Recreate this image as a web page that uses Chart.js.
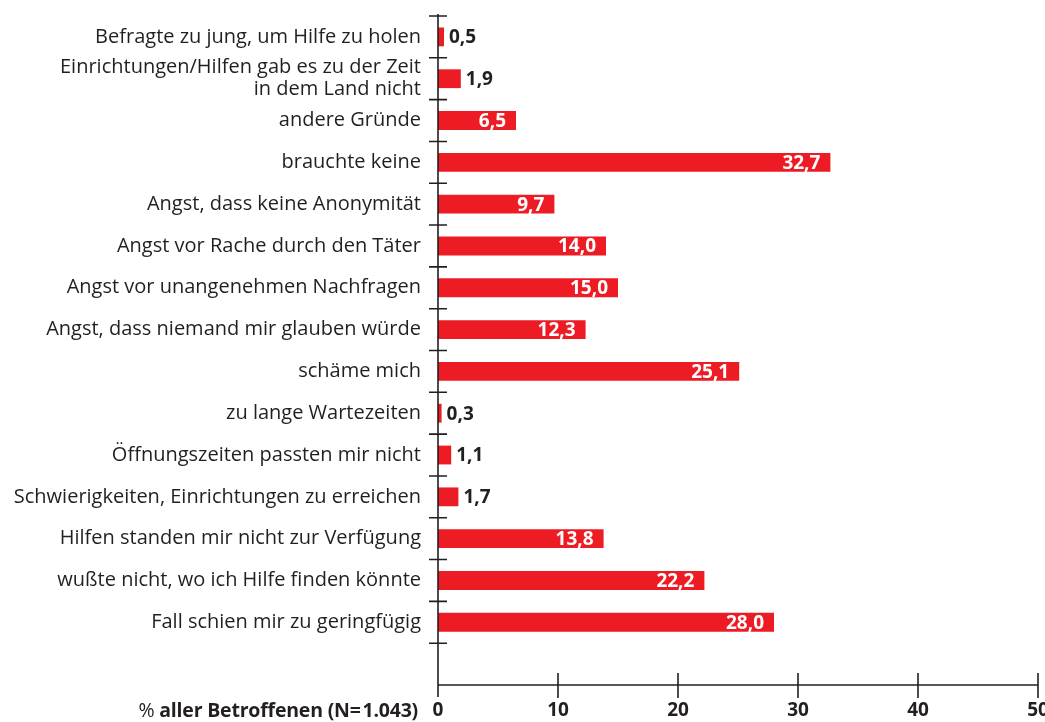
<!DOCTYPE html>
<html><head><meta charset="utf-8">
<script src="https://cdn.jsdelivr.net/npm/chart.js@4.4.1/dist/chart.umd.min.js"></script>
<style>
html,body{margin:0;padding:0;background:#fff;overflow:hidden;width:1045px;height:722px}
#wrap{position:relative;width:1048px;height:722px}
#note{position:absolute;left:0;width:418px;top:698px;line-height:24px;text-align:right;font-family:"Open Sans",sans-serif;font-size:19.5px;color:#231f20;font-weight:bold;white-space:nowrap;letter-spacing:-0.2px}
#note span{font-weight:normal}
</style></head>
<body>
<div id="wrap"><canvas id="c" width="1048" height="722"></canvas>
<div id="note"><span>%</span> aller Betroffenen (N=&#8202;1.043)</div></div>
<script>
const categories = [
  'Befragte zu jung, um Hilfe zu holen',
  ['Einrichtungen/Hilfen gab es zu der Zeit', 'in dem Land nicht'],
  'andere Gründe',
  'brauchte keine',
  'Angst, dass keine Anonymität',
  'Angst vor Rache durch den Täter',
  'Angst vor unangenehmen Nachfragen',
  'Angst, dass niemand mir glauben würde',
  'schäme mich',
  'zu lange Wartezeiten',
  'Öffnungszeiten passten mir nicht',
  'Schwierigkeiten, Einrichtungen zu erreichen',
  'Hilfen standen mir nicht zur Verfügung',
  'wußte nicht, wo ich Hilfe finden könnte',
  'Fall schien mir zu geringfügig',
  ''
];
const values = [0.5, 1.9, 6.5, 32.7, 9.7, 14.0, 15.0, 12.3, 25.1, 0.3, 1.1, 1.7, 13.8, 22.2, 28.0, null];
const xTickValues = [0, 10, 20, 30, 40, 50];

const RED = '#ed1c24';
const INK = '#231f20';
const FONT = '"Open Sans", sans-serif';

const axisPlugin = {
  id: 'axes',
  afterDraw(chart) {
    const ctx = chart.ctx, xs = chart.scales.x, ys = chart.scales.y;
    const x0 = xs.getPixelForValue(0);
    const yb = ys.bottom;
    ctx.save();
    ctx.strokeStyle = INK;
    ctx.lineWidth = 1.6;
    ctx.beginPath();
    ctx.moveTo(x0, ys.top - 2);
    ctx.lineTo(x0, yb + 12);
    ctx.moveTo(x0, yb);
    ctx.lineTo(xs.right, yb);
    const n = categories.length;
    for (let i = 0; i < n; i++) {
      const yy = ys.getPixelForValue(i - 0.5);
      ctx.moveTo(x0 - 9, yy);
      ctx.lineTo(x0 + 9, yy);
    }
    xTickValues.forEach(v => {
      if (v === 0) return;
      const xx = xs.getPixelForValue(v);
      ctx.moveTo(xx, yb - 12);
      ctx.lineTo(xx, yb + 13);
    });
    ctx.stroke();
    ctx.restore();
  }
};

const labelPlugin = {
  id: 'valueLabels',
  afterDatasetsDraw(chart) {
    const ctx = chart.ctx;
    const meta = chart.getDatasetMeta(0);
    ctx.save();
    ctx.font = 'bold 19px ' + FONT;
    ctx.textBaseline = 'middle';
    meta.data.forEach((bar, i) => {
      const v = values[i];
      if (v === null || v === undefined) return;
      const txt = v.toFixed(1).replace('.', ',');
      if (v >= 5) {
        ctx.fillStyle = '#ffffff';
        ctx.textAlign = 'right';
        ctx.fillText(txt, bar.x - 10, bar.y + 1);
      } else {
        ctx.fillStyle = INK;
        ctx.textAlign = 'left';
        ctx.fillText(txt, bar.x + 5, bar.y + 1);
      }
    });
    ctx.restore();
  }
};

new Chart(document.getElementById('c'), {
  type: 'bar',
  data: {
    labels: categories,
    datasets: [{
      data: values,
      backgroundColor: RED,
      borderWidth: 0,
      barPercentage: 0.45,
      categoryPercentage: 1.0
    }]
  },
  plugins: [axisPlugin, labelPlugin],
  options: {
    indexAxis: 'y',
    responsive: false,
    animation: false,
    events: [],
    layout: { padding: { top: 16, right: 10, left: 0, bottom: 0 } },
    plugins: { legend: { display: false }, tooltip: { enabled: false } },
    scales: {
      x: {
        type: 'linear',
        min: 0, max: 50,
        afterBuildTicks(scale) { scale.ticks = xTickValues.map(v => ({ value: v })); },
        afterFit(scale) { scale.height = 37; scale.paddingLeft = 0; scale.paddingRight = 0; },
        grid: { display: false, drawTicks: false },
        border: { display: false },
        ticks: {
          autoSkip: false, maxRotation: 0, padding: 14,
          color: INK,
          font: { family: FONT, size: 19, weight: 'bold' }
        }
      },
      y: {
        type: 'category',
        offset: true,
        afterFit(scale) { scale.width = 438; scale.paddingTop = 0; scale.paddingBottom = 0; },
        grid: { display: false, drawTicks: false },
        border: { display: false },
        ticks: {
          autoSkip: false, padding: 17,
          color: INK,
          font: { family: FONT, size: 20, lineHeight: 1.1 }
        }
      }
    }
  }
});
</script>
</body></html>
